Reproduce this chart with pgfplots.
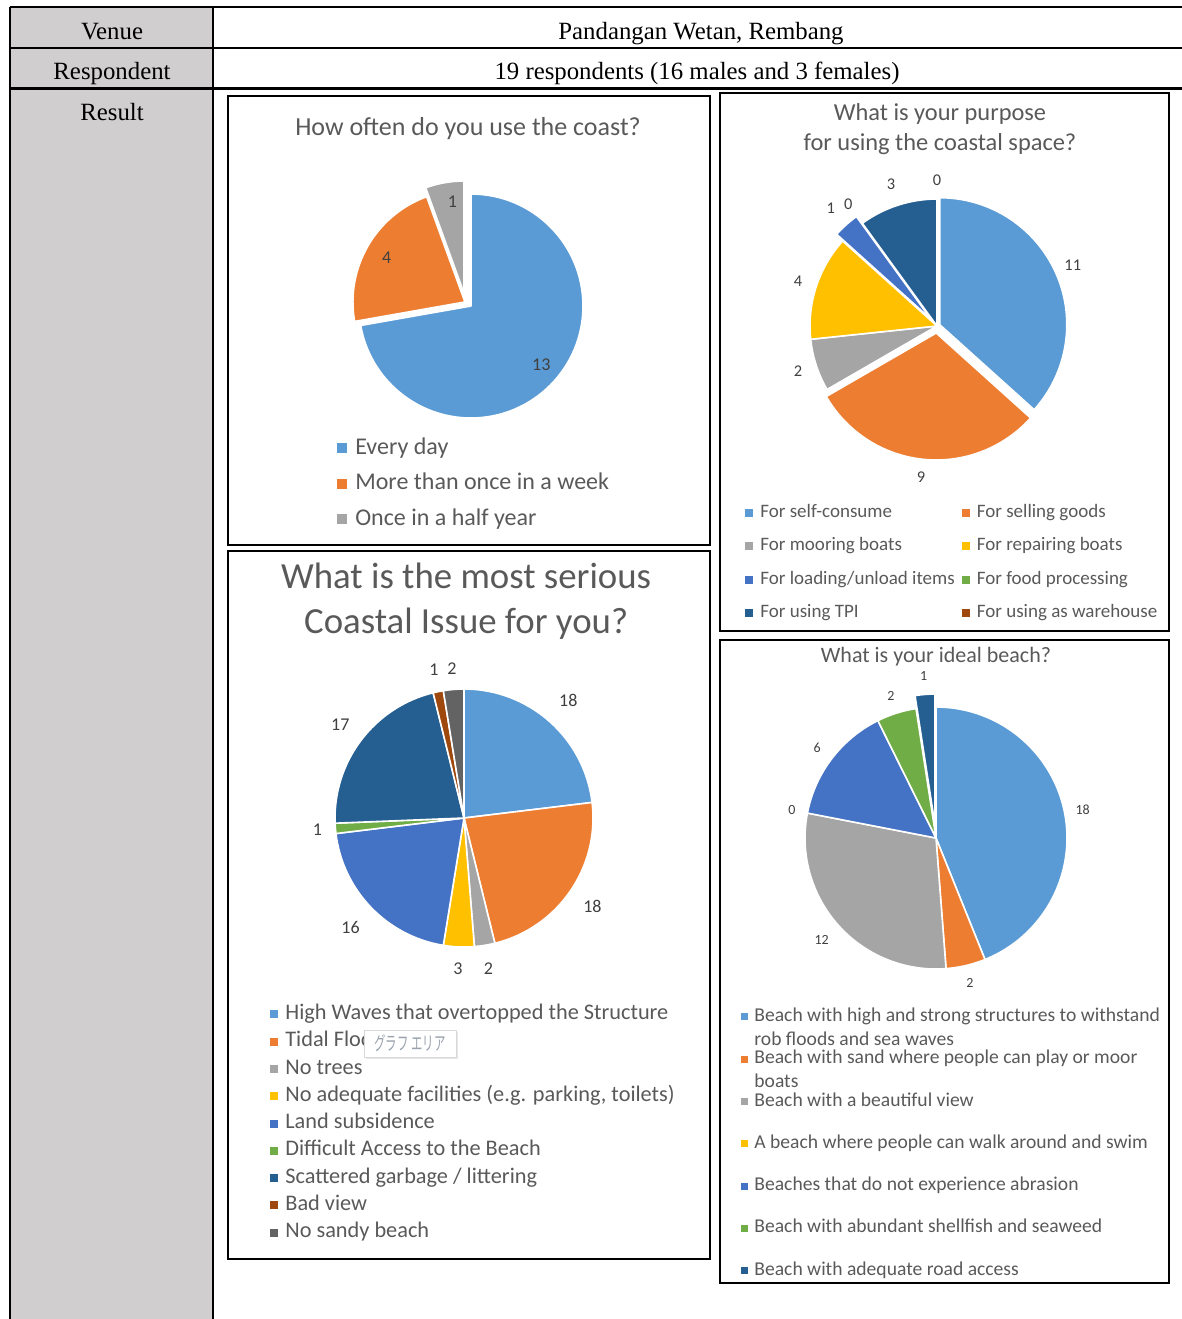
\documentclass[border=0pt]{standalone}
\usepackage{pgfplots}
\pgfplotsset{compat=1.18}
\usepackage{fontspec}
\setmainfont{Liberation Serif}
\newfontfamily\calibri{Carlito}
\newfontfamily\jpfont{Noto Sans CJK JP}
\usetikzlibrary{shadows}

\definecolor{cA}{HTML}{5B9BD5}
\definecolor{cB}{HTML}{ED7D31}
\definecolor{cC}{HTML}{A5A5A5}
\definecolor{cD}{HTML}{FFC000}
\definecolor{cE}{HTML}{4472C4}
\definecolor{cF}{HTML}{70AD47}
\definecolor{cG}{HTML}{255E91}
\definecolor{cH}{HTML}{9E480E}
\definecolor{cI}{HTML}{636363}
\definecolor{tgray}{HTML}{595959}
\definecolor{lgray}{HTML}{404040}
\definecolor{cellgray}{HTML}{D0CECE}
\definecolor{tipgray}{HTML}{9AA3AE}

% #1 total, #2 radius, #3 label font, #4 list value/colour/explode-x/explode-y/label-distance
\newcommand\piechart[4]{%
  \pgfplotsextra{%
    \xdef\pcur{90}%
    \foreach \v/\c/\ex/\ey/\ld in {#4}{%
      \pgfmathsetmacro\pend{\pcur-360*\v/#1}%
      \pgfmathsetmacro\pmid{(\pcur+\pend)/2}%
      \pgfmathsetmacro\sx{\ex+cos(\pcur)}%
      \pgfmathsetmacro\sy{\ey+sin(\pcur)}%
      \pgfmathsetmacro\lx{\ld*cos(\pmid)}%
      \pgfmathsetmacro\ly{\ld*sin(\pmid)}%
      \ifdim\v pt>0pt
        \filldraw[fill=\c, draw=white, line width=0.8pt, line join=round]
          (axis cs:\ex,\ey) -- (axis cs:\sx,\sy)
          arc[start angle=\pcur, end angle=\pend, radius=#2] -- cycle;
      \fi
      \node[font=#3, text=lgray, inner sep=0pt] at (axis cs:\lx,\ly) {\v};
      \xdef\pcur{\pend}%
    }%
  }%
}

\pgfplotsset{
  piebox/.style={
    anchor=south west, enlargelimits=false, clip=false,
    xtick=\empty, ytick=\empty,
    axis line style={line width=1pt, black},
    legend cell align=left,
  },
}

\begin{document}
\begin{tikzpicture}
\useasboundingbox (0pt,0pt) rectangle (591pt,-659.5pt);
% ---- table ----
\fill[cellgray] (5pt,-3.5pt) rectangle (106.5pt,-659.5pt);
\draw[line width=1.1pt] (5pt,-3.5pt) -- (591pt,-3.5pt);
\draw[line width=1.1pt] (5pt,-23.8pt) -- (591pt,-23.8pt);
\draw[line width=1.1pt] (5pt,-44.2pt) -- (591pt,-44.2pt);
\draw[line width=1.1pt] (5pt,-3.5pt) -- (5pt,-659.5pt);
\draw[line width=1.1pt] (106.5pt,-3.5pt) -- (106.5pt,-659.5pt);
\begin{scope}[every node/.style={font=\fontsize{12.4}{14}\selectfont, anchor=base, inner sep=0pt}]
\node at (56pt,-19.5pt) {Venue};
\node at (56pt,-39.75pt) {Respondent};
\node at (56pt,-60pt) {Result};
\node at (350.5pt,-19.5pt) {Pandangan Wetan, Rembang};
\node at (348.5pt,-39.75pt) {19 respondents (16 males and 3 females)};
\end{scope}

% ---- chart 1 ----
\begin{axis}[piebox,
  at={(114pt,-272.5pt)}, x=56pt, y=56pt,
  xmin=-2.1696, xmax=2.1339, ymin=-2.1339, ymax=1.875,
  title={How often do you use the coast?},
  title style={at={(0.498,0.931)}, anchor=center, yshift=-7pt, font=\calibri\fontsize{13}{15}\selectfont, text=tgray},
  legend style={at={(0.226,0.2428)}, anchor=north west, draw=none, fill=none, inner sep=0pt,
    row sep=5.75pt, font=\calibri\fontsize{12}{14}\selectfont,
    nodes={inner sep=0pt, text height=9pt, text depth=3pt, text=tgray},
    /tikz/every odd column/.append style={column sep=4pt}},
  legend image code/.code={\fill[#1, draw=none] (0pt,-2.5pt) rectangle (5pt,2.5pt);},
]
\piechart{18}{56pt}{\calibri\fontsize{9}{10}\selectfont}{13/cA/0/0/0.82, 4/cB/-0.054/0.036/0.87, 1/cC/-0.0625/0.116/0.95}
\addlegendimage{fill=cA}\addlegendentry{Every day}
\addlegendimage{fill=cB}\addlegendentry{More than once in a week}
\addlegendimage{fill=cC}\addlegendentry{Once in a half year}
\end{axis}

% ---- chart 2 ----
\begin{axis}[piebox,
  at={(360pt,-315.5pt)}, x=63.5pt, y=63.5pt,
  xmin=-1.7087, xmax=1.8268, ymin=-2.4016, ymax=1.8346,
  title={What is your purpose\\for using the coastal space?},
  title style={at={(0.49,0.935)}, anchor=center, yshift=-6.5pt, align=center, font=\calibri\fontsize{12.2}{15}\selectfont, text=tgray},
  legend columns=2,
  legend style={at={(0.0557,0.2379)}, anchor=north west, draw=none, fill=none, inner sep=0pt,
    row sep=7.15pt, font=\calibri\fontsize{9.5}{11}\selectfont,
    nodes={inner sep=0pt, text height=7pt, text depth=2.5pt, text=tgray},
    /tikz/every odd column/.append style={column sep=3.5pt},
    /tikz/every even column/.append style={column sep=3.5pt}},
  legend image code/.code={\fill[#1, draw=none] (0pt,-2pt) rectangle (4pt,2pt);},
]
\piechart{30}{63.5pt}{\calibri\fontsize{8.2}{9}\selectfont}{11/cA/0.022/0.01/1.17, 9/cB/-0.006/-0.055/1.2, 2/cC/0/0/1.15, 4/cD/0/0/1.15, 1/cE/-0.047/0.053/1.25, 0/cF/0/0/1.19, 3/cG/0/0/1.17, 0/cH/0/0/1.15}
\addlegendimage{fill=cA}\addlegendentry{For self-consume}
\addlegendimage{fill=cB}\addlegendentry{For selling goods}
\addlegendimage{fill=cC}\addlegendentry{For mooring boats}
\addlegendimage{fill=cD}\addlegendentry{For repairing boats}
\addlegendimage{fill=cE}\addlegendentry{For loading/unload items}
\addlegendimage{fill=cF}\addlegendentry{For food processing}
\addlegendimage{fill=cG}\addlegendentry{For using TPI}
\addlegendimage{fill=cH}\addlegendentry{For using as warehouse}
\end{axis}

% ---- chart 3 ----
\begin{axis}[piebox,
  at={(114pt,-629.5pt)}, x=64.5pt, y=64.5pt,
  xmin=-1.8295, xmax=1.9070, ymin=-3.4186, ymax=2.0698,
  title={What is the most serious\\Coastal Issue for you?},
  title style={at={(0.494,0.9315)}, anchor=center, yshift=-7pt, align=center, font=\calibri\fontsize{18.4}{22.5}\selectfont, text=tgray},
  legend style={at={(0.0871,0.3616)}, anchor=north west, draw=none, fill=none, inner sep=0pt,
    row sep=2.65pt, font=\calibri\fontsize{11.15}{13}\selectfont,
    nodes={inner sep=0pt, text height=8pt, text depth=3pt, text=tgray},
    /tikz/every odd column/.append style={column sep=3.5pt}},
  legend image code/.code={\fill[#1, draw=none] (0pt,-2pt) rectangle (4pt,2pt);},
]
\piechart{78}{64.5pt}{\calibri\fontsize{9}{10}\selectfont}{18/cA/0/0/1.22, 18/cB/0/0/1.21, 2/cC/0/0/1.18, 3/cD/0/0/1.17, 16/cE/0/0/1.22, 1/cF/0/0/1.14, 17/cG/0/0/1.2, 1/cH/0/0/1.17, 2/cI/0/0/1.16}
\addlegendimage{fill=cA}\addlegendentry{High Waves that overtopped the Structure}
\addlegendimage{fill=cB}\addlegendentry{Tidal Flood}
\addlegendimage{fill=cC}\addlegendentry{No trees}
\addlegendimage{fill=cD}\addlegendentry{No adequate facilities (e.g. parking, toilets)}
\addlegendimage{fill=cE}\addlegendentry{Land subsidence}
\addlegendimage{fill=cF}\addlegendentry{Difficult Access to the Beach}
\addlegendimage{fill=cG}\addlegendentry{Scattered garbage / littering}
\addlegendimage{fill=cH}\addlegendentry{Bad view}
\addlegendimage{fill=cI}\addlegendentry{No sandy beach}
\end{axis}

% ---- chart 4 ----
\begin{axis}[piebox,
  at={(360pt,-641.5pt)}, x=65.5pt, y=65.5pt,
  xmin=-1.6489, xmax=1.7786, ymin=-3.3969, ymax=1.5115,
  title={What is your ideal beach?},
  title style={at={(0.481,0.9767)}, anchor=center, yshift=-7pt, font=\calibri\fontsize{11}{13}\selectfont, text=tgray},
  legend style={at={(0.0468,0.4292)}, anchor=north west, draw=none, fill=none, inner sep=0pt,
    row sep=11.65pt, font=\calibri\fontsize{9.8}{12}\selectfont,
    nodes={inner sep=0pt, text height=7pt, text depth=2.5pt, text=tgray},
    /tikz/every odd column/.append style={column sep=3pt}},
  legend image code/.code={\fill[#1, draw=none] (0pt,-1.75pt) rectangle (3.5pt,1.75pt);},
]
\piechart{41}{65.5pt}{\calibri\fontsize{7}{8}\selectfont}{18/cA/0/0/1.14, 2/cB/0/0/1.14, 12/cC/0/0/1.17, 0/cD/0/0/1.12, 6/cE/0/0/1.14, 2/cF/0/0/1.14, 1/cG/-0.0076/0.099/1.24}
\addlegendimage{fill=cA}\addlegendentry{\begin{tabular}[t]{@{}l@{}}Beach with high and strong structures to withstand\\rob floods and sea waves\end{tabular}}
\addlegendimage{fill=cB}\addlegendentry{\begin{tabular}[t]{@{}l@{}}Beach with sand where people can play or moor\\boats\end{tabular}}
\addlegendimage{fill=cC}\addlegendentry{Beach with a beautiful view}
\addlegendimage{fill=cD}\addlegendentry{A beach where people can walk around and swim}
\addlegendimage{fill=cE}\addlegendentry{Beaches that do not experience abrasion}
\addlegendimage{fill=cF}\addlegendentry{Beach with abundant shellfish and seaweed}
\addlegendimage{fill=cG}\addlegendentry{Beach with adequate road access}
\end{axis}

% ---- tooltip over chart 3 legend ----
\node[draw=black!15, fill=white, drop shadow={opacity=0.2, shadow xshift=1pt, shadow yshift=-1pt},
  minimum width=46pt, minimum height=13.5pt, inner sep=1pt,
  font=\jpfont\fontsize{9.5}{10}\selectfont, text=tipgray] at (205pt,-521.75pt) {\scalebox{0.6}[1]{グラフ エリア}};
\end{tikzpicture}
\end{document}
